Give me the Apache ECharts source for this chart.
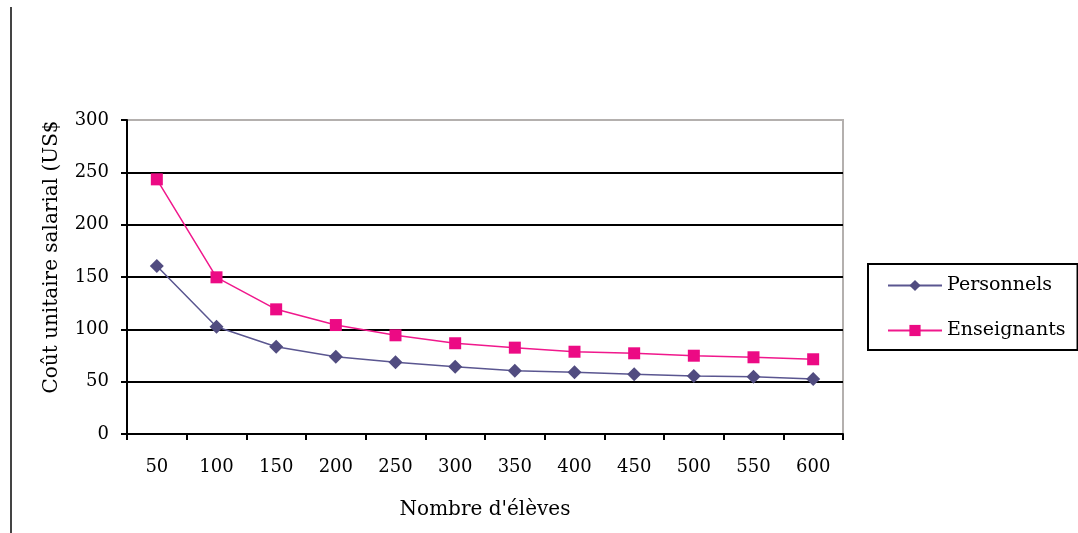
<!DOCTYPE html>
<html>
<head>
<meta charset="utf-8">
<script src="https://cdn.jsdelivr.net/npm/echarts@6/dist/echarts.min.js"></script>
<style>
html,body{margin:0;padding:0;background:#fff;}
#chart{width:1078px;height:533px;}
</style>
</head>
<body>
<div id="chart"></div>
<script>
const categories = ['50','100','150','200','250','300','350','400','450','500','550','600'];
const personnels = [160.5, 102.5, 83.4, 73.9, 68.5, 64.3, 60.5, 59, 57.1, 55.4, 54.7, 52.5];
const enseignants = [243.3, 149.7, 119.1, 104.1, 94.3, 86.7, 82.5, 78.6, 77.1, 74.8, 73.3, 71.4];
const yTitle = 'Coût unitaire salarial (US$';
const xTitle = "Nombre d'élèves";

const FONT = '"DejaVu Serif", serif';
const chart = echarts.init(document.getElementById('chart'), null, {renderer: 'canvas'});
chart.setOption({
  animation: false,
  backgroundColor: '#fff',
  grid: {left: 127, right: 235, top: 120, bottom: 99, show: true, borderColor: '#b4b0ae', borderWidth: 2, backgroundColor: 'transparent'},
  legend: {
    orient: 'vertical', left: 868, top: 264,
    padding: [12, 12, 10, 19],
    itemWidth: 54, itemHeight: 14, itemGap: 26,
    borderColor: '#000', borderWidth: 2,
    textStyle: {fontFamily: FONT, fontSize: 19, color: '#000'},
    data: ['Personnels', 'Enseignants']
  },
  xAxis: {
    type: 'category', data: categories, boundaryGap: true,
    name: xTitle, nameLocation: 'middle', nameGap: 66,
    nameTextStyle: {fontFamily: FONT, fontSize: 20, color: '#000'},
    axisLine: {lineStyle: {color: '#000', width: 2}},
    axisTick: {show: true, inside: false, length: 6, lineStyle: {color: '#000', width: 2}},
    axisLabel: {fontFamily: FONT, fontSize: 18, color: '#000', margin: 24}
  },
  yAxis: {
    type: 'value', min: 0, max: 300, interval: 50,
    axisLine: {show: true, lineStyle: {color: '#000', width: 2}},
    axisTick: {show: true, inside: false, length: 6, lineStyle: {color: '#000', width: 2}},
    axisLabel: {fontFamily: FONT, fontSize: 18, color: '#000', margin: 18},
    splitLine: {show: true, lineStyle: {color: ['#000','#000','#000','#000','#000','#000','#b4b0ae'], width: 2}}
  },
  graphic: [
    {type: 'line', shape: {x1: 11, y1: 7, x2: 11, y2: 533}, style: {stroke: '#444', lineWidth: 2}},
    {type: 'text', x: 52, y: 257, rotation: Math.PI / 2,
      style: {text: yTitle, font: '20px "DejaVu Serif", serif', fill: '#000', textAlign: 'center', textVerticalAlign: 'middle'}}
  ],
  series: [
    {name: 'Personnels', type: 'line', data: personnels,
      symbol: 'diamond', symbolSize: 14, showAllSymbol: true,
      itemStyle: {color: '#514c80'}, lineStyle: {color: '#5a5690', width: 1.5}},
    {name: 'Enseignants', type: 'line', data: enseignants,
      symbol: 'rect', symbolSize: 12, showAllSymbol: true,
      itemStyle: {color: '#ec0a84'}, lineStyle: {color: '#f0188c', width: 1.5}}
  ]
});
</script>
</body>
</html>
